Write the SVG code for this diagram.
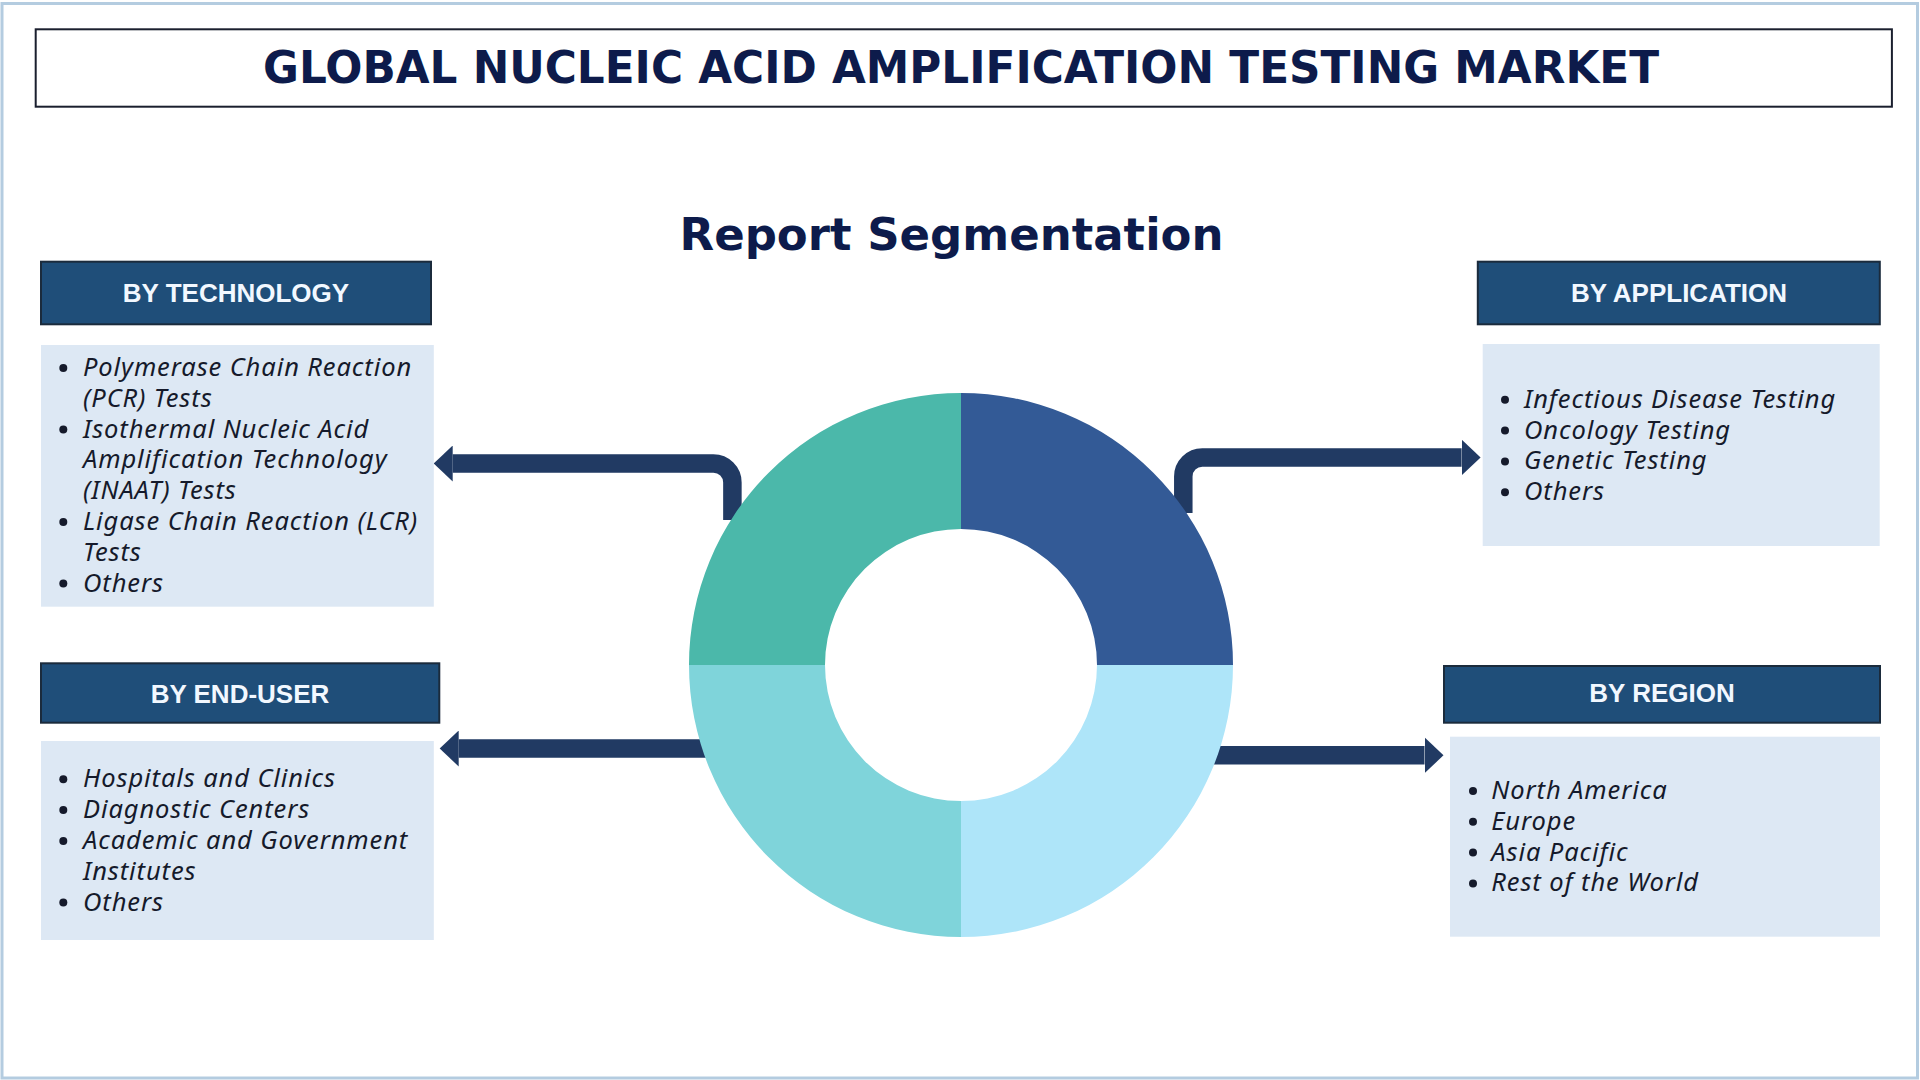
<svg xmlns="http://www.w3.org/2000/svg" width="1920" height="1080" viewBox="0 0 1920 1080">
<style>
.hdr{fill:#1f4e79;stroke:#1b2b3c;stroke-width:2}
.hdrt{font-family:"Liberation Sans",Arial,sans-serif;font-weight:bold;font-size:26px;fill:#f2f8ff;text-anchor:middle}
.lst{fill:#dde8f4}
.it{font-family:"Noto Sans","Open Sans",sans-serif;font-style:italic;font-size:25.5px;letter-spacing:0.9px;fill:#151a2b}
.bul{fill:#151a2b}
.con{fill:none;stroke:#213a63;stroke-width:18.5;marker-end:url(#ah)}
</style>
<defs>
<marker id="ah" markerUnits="userSpaceOnUse" markerWidth="20" markerHeight="36" refX="0" refY="18" orient="auto">
<path d="M0,0 L19,18 L0,36 Z" fill="#213a63"/>
</marker>
</defs>
<rect x="0" y="0" width="1920" height="1080" fill="#ffffff"/>
<rect x="2" y="3.5" width="1915.5" height="1074.5" fill="none" stroke="#b4cce0" stroke-width="3"/>

<g id="title">
<rect x="35.7" y="29.3" width="1856.2" height="77.4" fill="#ffffff" stroke="#1a1f2e" stroke-width="2"/>
<text x="961" y="83.3" text-anchor="middle" font-family="'DejaVu Sans',sans-serif" font-weight="bold" font-size="44" fill="#0d1b4b" textLength="1396" lengthAdjust="spacingAndGlyphs">GLOBAL NUCLEIC ACID AMPLIFICATION TESTING MARKET</text>
</g>

<g id="subtitle">
<text x="951.5" y="249.5" text-anchor="middle" font-family="'DejaVu Sans',sans-serif" font-weight="bold" font-size="45" fill="#0d1b4b">Report Segmentation</text>
</g>

<g id="connectors">
<path class="con" d="M732.4,520 V482.5 A19,19 0 0 0 713.4,463.5 H452.7"/>
<path class="con" d="M1183.3,513 V476.5 A19,19 0 0 1 1202.3,457.5 H1461.6"/>
<path class="con" d="M725,748.5 H458.7"/>
<path class="con" d="M1200,755.3 H1424.5"/>
</g>

<g id="donut">
<path d="M689,665 A272,272 0 0 1 961,393 V529 A136,136 0 0 0 825,665 Z" fill="#4bb8aa"/>
<path d="M961,393 A272,272 0 0 1 1233,665 H1097 A136,136 0 0 0 961,529 Z" fill="#335a96"/>
<path d="M1233,665 A272,272 0 0 1 961,937 V801 A136,136 0 0 0 1097,665 Z" fill="#aee5f9"/>
<path d="M961,937 A272,272 0 0 1 689,665 H825 A136,136 0 0 0 961,801 Z" fill="#7fd4da"/>
</g>

<g id="technology">
<rect class="hdr" x="41" y="261.7" width="390" height="62.6"/>
<text class="hdrt" x="236" y="301.7">BY TECHNOLOGY</text>
<rect class="lst" x="41" y="345" width="392.8" height="261.7"/>
<circle class="bul" cx="63.3" cy="368" r="4"/>
<text class="it" x="83" y="376">Polymerase Chain Reaction</text>
<text class="it" x="83" y="406.8">(PCR) Tests</text>
<circle class="bul" cx="63.3" cy="429.6" r="4"/>
<text class="it" x="83" y="437.6">Isothermal Nucleic Acid</text>
<text class="it" x="83" y="468.4">Amplification Technology</text>
<text class="it" x="83" y="499.2">(INAAT) Tests</text>
<circle class="bul" cx="63.3" cy="522" r="4"/>
<text class="it" x="83" y="530">Ligase Chain Reaction (LCR)</text>
<text class="it" x="83" y="560.8">Tests</text>
<circle class="bul" cx="63.3" cy="583.6" r="4"/>
<text class="it" x="83" y="591.6">Others</text>
</g>

<g id="end-user">
<rect class="hdr" x="41" y="663.3" width="398.3" height="59.4"/>
<text class="hdrt" x="240" y="702.7">BY END-USER</text>
<rect class="lst" x="41" y="741" width="392.8" height="199"/>
<circle class="bul" cx="63.3" cy="779.3" r="4"/>
<text class="it" x="83" y="787.3">Hospitals and Clinics</text>
<circle class="bul" cx="63.3" cy="810.1" r="4"/>
<text class="it" x="83" y="818.1">Diagnostic Centers</text>
<circle class="bul" cx="63.3" cy="840.9" r="4"/>
<text class="it" x="83" y="848.9">Academic and Government</text>
<text class="it" x="83" y="879.7">Institutes</text>
<circle class="bul" cx="63.3" cy="902.5" r="4"/>
<text class="it" x="83" y="910.5">Others</text>
</g>

<g id="application">
<rect class="hdr" x="1477.8" y="261.7" width="402" height="62.6"/>
<text class="hdrt" x="1679" y="301.7">BY APPLICATION</text>
<rect class="lst" x="1482.7" y="344" width="397" height="202"/>
<circle class="bul" cx="1505" cy="399.8" r="4"/>
<text class="it" x="1524" y="407.8">Infectious Disease Testing</text>
<circle class="bul" cx="1505" cy="430.6" r="4"/>
<text class="it" x="1524" y="438.6">Oncology Testing</text>
<circle class="bul" cx="1505" cy="461.4" r="4"/>
<text class="it" x="1524" y="469.4">Genetic Testing</text>
<circle class="bul" cx="1505" cy="492.2" r="4"/>
<text class="it" x="1524" y="500.2">Others</text>
</g>

<g id="region">
<rect class="hdr" x="1444" y="666" width="436" height="56.7"/>
<text class="hdrt" x="1662" y="701.6">BY REGION</text>
<rect class="lst" x="1450" y="736.7" width="430" height="200"/>
<circle class="bul" cx="1473" cy="791" r="4"/>
<text class="it" x="1491.3" y="799">North America</text>
<circle class="bul" cx="1473" cy="821.8" r="4"/>
<text class="it" x="1491.3" y="829.8">Europe</text>
<circle class="bul" cx="1473" cy="852.6" r="4"/>
<text class="it" x="1491.3" y="860.6">Asia Pacific</text>
<circle class="bul" cx="1473" cy="883.4" r="4"/>
<text class="it" x="1491.3" y="891.4">Rest of the World</text>
</g>
</svg>
